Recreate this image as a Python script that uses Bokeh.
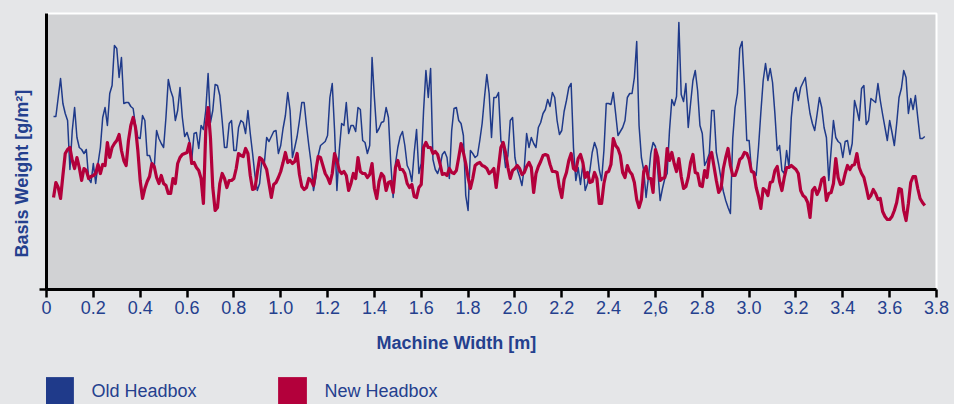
import numpy as np
from bokeh.plotting import figure
from bokeh.layouts import column
from bokeh.models import Range1d, FixedTicker, Title, Legend, LegendItem
from bokeh.embed import file_html
from bokeh.resources import INLINE

# ---------------- data ----------------
x_start = 0.03          # first measuring position [m]
x_step = 0.01           # spacing of measuring positions [m]

old_headbox = [
    172, 172, 191, 210, 185, 175, 168, 119, 158, 181,
    151, 141, 139, 135, 139, 110, 106, 125, 105, 125,
    141, 171, 181, 163, 195, 203, 243, 240, 211, 231,
    185, 186, 186, 182, 180, 163, 151, 150, 173, 168,
    133, 133, 125, 121, 158, 150, 145, 141, 171, 209,
    198, 191, 168, 178, 201, 171, 152, 156, 148, 128,
    155, 156,
    140, 163, 159, 178, 215, 166, 178, 204, 203, 193,
    168, 141, 141, 165, 168, 138, 138, 161, 168, 166,
    155, 178, 155, 135, 113, 98, 105, 130, 125, 151,
    147, 152, 157, 158, 135, 143, 160, 173, 196, 178,
    131, 141, 152, 168, 186, 186, 163, 143, 125, 98,
    111, 133, 143, 145, 147, 153, 191, 205, 158, 98,
    138, 165, 163, 186,
    155, 163, 163, 157, 181, 179, 148, 146, 135, 143,
    231, 191, 156, 160, 166, 167, 181, 171, 125, 91,
    125, 141, 152, 157, 143, 123, 118, 107, 136, 159,
    115, 125, 178, 218, 191, 220, 129, 119, 115, 122,
    134, 137, 131, 110, 158, 180, 181, 168, 165, 153,
    93, 78, 138, 135, 131, 133, 148, 165, 191, 214,
    195, 151, 191, 191,
    196, 148, 141, 121, 133, 168, 171, 131, 119, 112,
    103, 121, 155, 141, 151, 145, 141, 161, 166, 175,
    179, 189, 182, 196, 191, 168, 154, 158, 177, 188,
    201, 205, 141, 108, 121, 104, 125, 98, 105, 118,
    136, 146, 139, 119, 108, 138, 185, 185, 184, 196,
    175, 153, 157, 161, 168, 191, 195, 195, 211, 247,
    163, 131, 118, 91,
    111, 135, 146, 142, 118, 88, 100, 110, 115, 158,
    189, 183, 192, 266, 194, 187, 205, 161, 185, 208,
    218, 198, 163, 155, 123, 128, 135, 178, 178, 136,
    124, 110, 97, 88, 81, 75, 150, 181, 195, 240,
    247, 203, 148, 148, 118, 117, 113, 141, 176, 208,
    225, 208, 220, 206, 175, 138, 143, 118, 115, 138,
    121, 171, 195, 201,
    188, 201, 206, 211, 191, 175, 165, 158, 174, 191,
    181, 161, 151, 108, 138, 168, 151, 147, 145, 131,
    147, 148, 134, 145, 188, 179, 168, 200, 203, 164,
    168, 190, 188, 186, 205, 188, 174, 161, 148, 168,
    156, 143, 165, 191, 200, 218, 211, 175, 190, 179,
    193, 171, 150, 150, 152,
]

new_headbox = [
    91, 106, 101, 90, 113, 135, 139, 141, 128, 120,
    131, 121, 108, 120, 118, 110, 112, 113, 115, 124,
    115, 124, 123, 146, 131, 141, 145, 148, 154, 138,
    128, 123, 148, 163, 171, 161, 138, 108, 90, 100,
    107, 112, 125, 122, 111, 105, 113, 105, 103, 95,
    95, 110, 105, 125, 131, 134, 135, 136, 145, 125,
    126, 121,
    118, 110, 85, 158, 181, 151, 101, 78, 81, 105,
    115, 110, 101, 108, 108, 110, 120, 135, 133, 132,
    140, 135, 113, 99, 100, 116, 131, 129, 124, 119,
    105, 91, 104, 106, 111, 117, 126, 136, 126, 128,
    125, 127, 135, 114, 102, 99, 101, 110, 108, 103,
    118, 132, 131, 123, 115, 111, 105, 115, 135, 128,
    118, 115, 117, 113,
    98, 105, 115, 110, 131, 117, 115, 115, 111, 114,
    125, 100, 90, 107, 115, 112, 98, 106, 107, 96,
    121, 128, 119, 119, 115, 105, 101, 104, 92, 91,
    101, 104, 141, 146, 141, 141, 135, 137, 134, 125,
    114, 115, 113, 120, 116, 115, 118, 131, 145, 136,
    125, 111, 100, 110, 123, 125, 126, 123, 122, 120,
    115, 117, 120, 101,
    121, 141, 146, 136, 121, 110, 118, 120, 123, 120,
    114, 116, 122, 126, 121, 96, 115, 122, 127, 133,
    134, 133, 124, 117, 117, 116, 101, 91, 109, 116,
    128, 135, 120, 118, 130, 134, 126, 111, 116, 106,
    107, 116, 110, 85, 85, 105, 116, 117, 124, 150,
    143, 140, 133, 116, 111, 123, 117, 114, 106, 89,
    81, 89, 117, 122,
    110, 110, 96, 139, 131, 108, 110, 111, 140, 128,
    136, 125, 117, 130, 112, 100, 102, 111, 126, 134,
    116, 115, 103, 102, 118, 111, 130, 136, 122, 108,
    96, 100, 120, 131, 140, 123, 113, 113, 120, 129,
    131, 136, 135, 129, 117, 116, 101, 92, 80, 100,
    98, 93, 106, 107, 118, 122, 107, 98, 111, 121,
    121, 123, 121, 119,
    115, 98, 93, 91, 86, 71, 98, 101, 94, 99,
    109, 111, 88, 95, 96, 105, 130, 111, 104, 105,
    115, 123, 119, 123, 124, 135, 121, 115, 111, 101,
    90, 93, 99, 95, 89, 90, 77, 72, 69, 69,
    72, 78, 86, 100, 99, 78, 68, 85, 106, 112,
    112, 100, 90, 86, 83,
]

x_ticks = [0, 0.2, 0.4, 0.6, 0.8, 1.0, 1.2, 1.4, 1.6, 1.8,
           2.0, 2.2, 2.4, 2.6, 2.8, 3.0, 3.2, 3.4, 3.6, 3.8]
x_tick_labels = ["0", "0.2", "0.4", "0.6", "0.8", "1.0", "1.2", "1.4", "1.6", "1.8",
                 "2.0", "2.2", "2.4", "2,6", "2.8", "3.0", "3.2", "3.4", "3.6", "3.8"]

series_names = ["Old Headbox", "New Headbox"]
x_title = "Machine Width [m]"
y_title = "Basis Weight [g/m²]"

# ---------------- style ----------------
FONT = "Liberation Sans"
TEXT = "#24408e"
BLUE = "#1f3a8a"
RED = "#b3003b"
PAGE_BG = "#e5e6e8"
PLOT_BG = "#d1d2d4"

x_old = np.round(x_start + x_step * np.arange(len(old_headbox)), 2)
x_new = np.round(x_start + x_step * np.arange(len(new_headbox)), 2)

# ---------------- main chart ----------------
p = figure(width=954, height=370, output_backend="svg", toolbar_location=None,
           x_range=Range1d(0, 3.8), y_range=Range1d(-1, 275),
           min_border_left=46, min_border_right=18, min_border_top=13,
           min_border_bottom=81)
p.background_fill_color = PLOT_BG
p.border_fill_color = PAGE_BG
p.outline_line_color = "white"
p.outline_line_width = 2
p.xgrid.visible = False
p.ygrid.visible = False

p.line(x_old, old_headbox, line_color=BLUE, line_width=1.5, line_join="round")
p.line(x_new, new_headbox, line_color=RED, line_width=3.2, line_join="round")

xa = p.xaxis[0]
xa.ticker = FixedTicker(ticks=x_ticks)
xa.major_label_overrides = {t: l for t, l in zip(x_ticks, x_tick_labels)}
xa.axis_line_width = 3
xa.axis_line_color = "black"
xa.major_tick_line_width = 2.5
xa.major_tick_line_color = "black"
xa.major_tick_out = 8
xa.major_tick_in = 0
xa.minor_tick_out = 0
xa.minor_tick_in = 0
xa.major_label_standoff = 3
xa.major_label_text_font = FONT
xa.major_label_text_font_size = "18px"
xa.major_label_text_color = TEXT

ya = p.yaxis[0]
ya.ticker = FixedTicker(ticks=[-1])
ya.major_label_overrides = {-1: ""}
ya.major_label_text_font_size = "0px"
ya.major_label_standoff = 0
ya.axis_line_width = 3
ya.axis_line_color = "black"
ya.major_tick_line_width = 2.5
ya.major_tick_line_color = "black"
ya.major_tick_out = 7
ya.major_tick_in = 0
ya.minor_tick_out = 0
ya.minor_tick_in = 0

p.add_layout(Title(text=x_title, align="left", offset=330, standoff=28,
                   text_font=FONT, text_font_size="18px", text_font_style="bold",
                   text_color=TEXT), "below")
p.add_layout(Title(text=y_title, align="left", offset=32, standoff=16,
                   text_font=FONT, text_font_size="18px", text_font_style="bold",
                   text_color=TEXT), "left")

# ---------------- legend strip ----------------
lg_fig = figure(width=954, height=34, output_backend="svg", toolbar_location=None,
                x_range=Range1d(0, 1), y_range=Range1d(0, 1), min_border=0,
                x_axis_location=None, y_axis_location=None)
lg_fig.grid.visible = False
lg_fig.outline_line_color = None
lg_fig.background_fill_color = PAGE_BG
lg_fig.border_fill_color = PAGE_BG

# legend proxies (kept outside the visible range of the strip)
r_old = lg_fig.quad(left=[2], right=[3], top=[3], bottom=[2], fill_color=BLUE, line_color=None)
r_new = lg_fig.quad(left=[2], right=[3], top=[3], bottom=[2], fill_color=RED, line_color=None)

legend = Legend(items=[LegendItem(label=series_names[0], renderers=[r_old]),
                       LegendItem(label=series_names[1], renderers=[r_new])],
                location=(-4.6, -5.4), orientation="horizontal",
                glyph_width=36, glyph_height=36, label_standoff=14,
                padding=0, margin=0, spacing=78,
                border_line_alpha=0, background_fill_alpha=0,
                label_text_font=FONT, label_text_font_size="18px",
                label_text_color=TEXT)
lg_fig.add_layout(legend, "center")

layout = column(p, lg_fig, spacing=0)

html = file_html(layout, INLINE)
html = html.replace("<body>", '<body style="background-color:%s;">' % PAGE_BG)
open("out.html", "w").write(html)
